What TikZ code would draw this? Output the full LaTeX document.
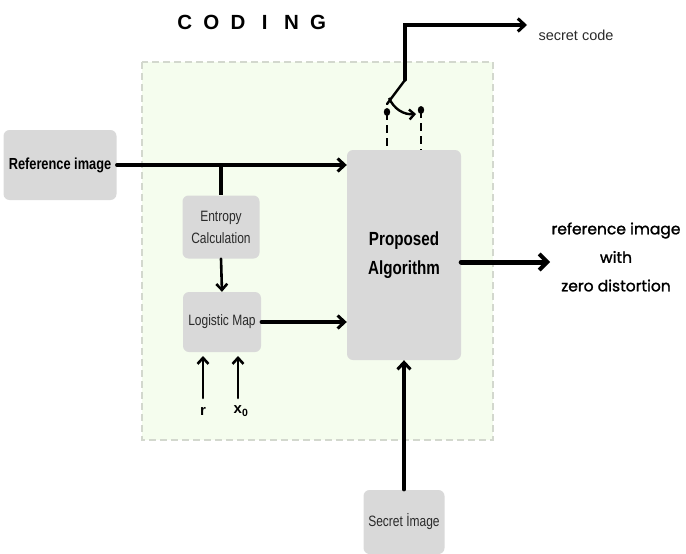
\documentclass[tikz,border=0pt]{standalone}
\usepackage{fontspec}
\setmainfont{Liberation Sans}
\newfontfamily\narrowfont[FakeStretch=0.8]{Liberation Sans}
\newfontfamily\popfont[FakeBold=1.4]{Poppins}
\usetikzlibrary{arrows.meta}

\definecolor{boxgray}{HTML}{D9D9D9}
\definecolor{zonegreen}{HTML}{F5FDEE}
\definecolor{zoneedge}{HTML}{D3D8CE}
\definecolor{textgray}{HTML}{2A2A2A}

\tikzset{
  block/.style={fill=boxgray, rounded corners=6pt, inner sep=0pt,
    text=textgray, align=center, font=\narrowfont\fontsize{15}{22}\selectfont},
  flow/.style={line width=3.2pt, -{Straight Barb[length=7pt,width=13pt,line width=3pt]},
    line cap=round},
  thin flow/.style={line width=2.6pt, -{Straight Barb[length=6pt,width=11pt,line width=2.6pt]},
    line cap=round},
  wire/.style={line width=2.4pt, dash pattern=on 8pt off 5pt},
}

\begin{document}
\begin{tikzpicture}[x=1pt, y=-1pt]
    \useasboundingbox (0,0) rectangle (686,554);

    % coding area
    \draw [fill=zonegreen, draw=zoneedge, line width=1.5pt, dash pattern=on 7pt off 4pt]
      (142,62) rectangle (493,440);
    \foreach \c [count=\i] in {C,O,D,I,N,G}
    {
      \node (coding\i) at (158+26.7*\i,22)
        [font=\bfseries\fontsize{20.5}{21}\selectfont] {\c};
    }

    % blocks
    \node (ref) at (60,165) [block, minimum width=113pt, minimum height=70pt,
      font=\narrowfont\bfseries\fontsize{16}{20}\selectfont, text=black] {Reference image};
    \node (algo) at (404,255) [block, minimum width=114pt, minimum height=210pt,
      font=\narrowfont\bfseries\fontsize{19}{29}\selectfont, text=black]
      {Proposed\\Algorithm};
    \node (entropy) at (221,227) [block, minimum width=77pt, minimum height=63pt]
      {Entropy\\Calculation};
    \node (logistic) at (222,322) [block, minimum width=78pt, minimum height=60pt]
      {Logistic Map};
    \node (secret) at (404,522) [block, minimum width=81pt, minimum height=64pt]
      {Secret İmage};

    % inputs
    \node (r) at (203,411) [font=\bfseries\fontsize{15}{16}\selectfont] {r};
    \node (x0) at (241,411) [font=\bfseries\fontsize{15}{16}\selectfont] {x\textsubscript{0}};
    \node (out) at (616,257) [font=\popfont\fontsize{15.5}{28.5}\selectfont, align=center]
      {reference image\\with\\zero distortion};
    \node (code) at (576,35) [font=\fontsize{14.5}{16}\selectfont, text=textgray] {secret code};

    % connectors
    \coordinate (split) at (221,165);
    \draw [flow] (ref.east) -- (algo.west |- ref.east);
    \draw [line width=3.2pt] (split) -- (entropy.north);
    \draw [thin flow] (entropy.south) -- (logistic.north);
    \draw [flow] (logistic.east) -- (algo.west |- logistic.east);
    \draw [thin flow] (203,398) -- (203,356);
    \draw [thin flow] (238,398) -- (238,356);
    \draw [line width=5pt, -{Straight Barb[length=8pt,width=16pt,line width=4pt]}, line cap=round]
      (algo.east |- 0,262) -- (550,262);
    \draw [flow] (secret.north) -- (algo.south);

    % switch
    \coordinate (pinA) at (387,112);
    \coordinate (pinB) at (421,110);
    \draw [wire] (pinA) -- (pinA |- algo.north);
    \draw [wire] (pinB) -- (pinB |- algo.north);
    \fill (pinA) ellipse (3.2pt and 4pt);
    \fill (pinB) ellipse (3.2pt and 4pt);
    \coordinate (pivot) at (405,80);
    \coordinate (codeend) at (527,25);
    \draw [line width=2.4pt, line cap=round] (pivot) -- (387,104);
    \draw [line width=2.4pt, -{Straight Barb[length=5pt,width=10pt,line width=2.4pt]}]
      (389,98) to[bend right=35] (416,114);
    \draw [flow] (pivot) -- (pivot |- codeend) -- (codeend);
\end{tikzpicture}
\end{document}
